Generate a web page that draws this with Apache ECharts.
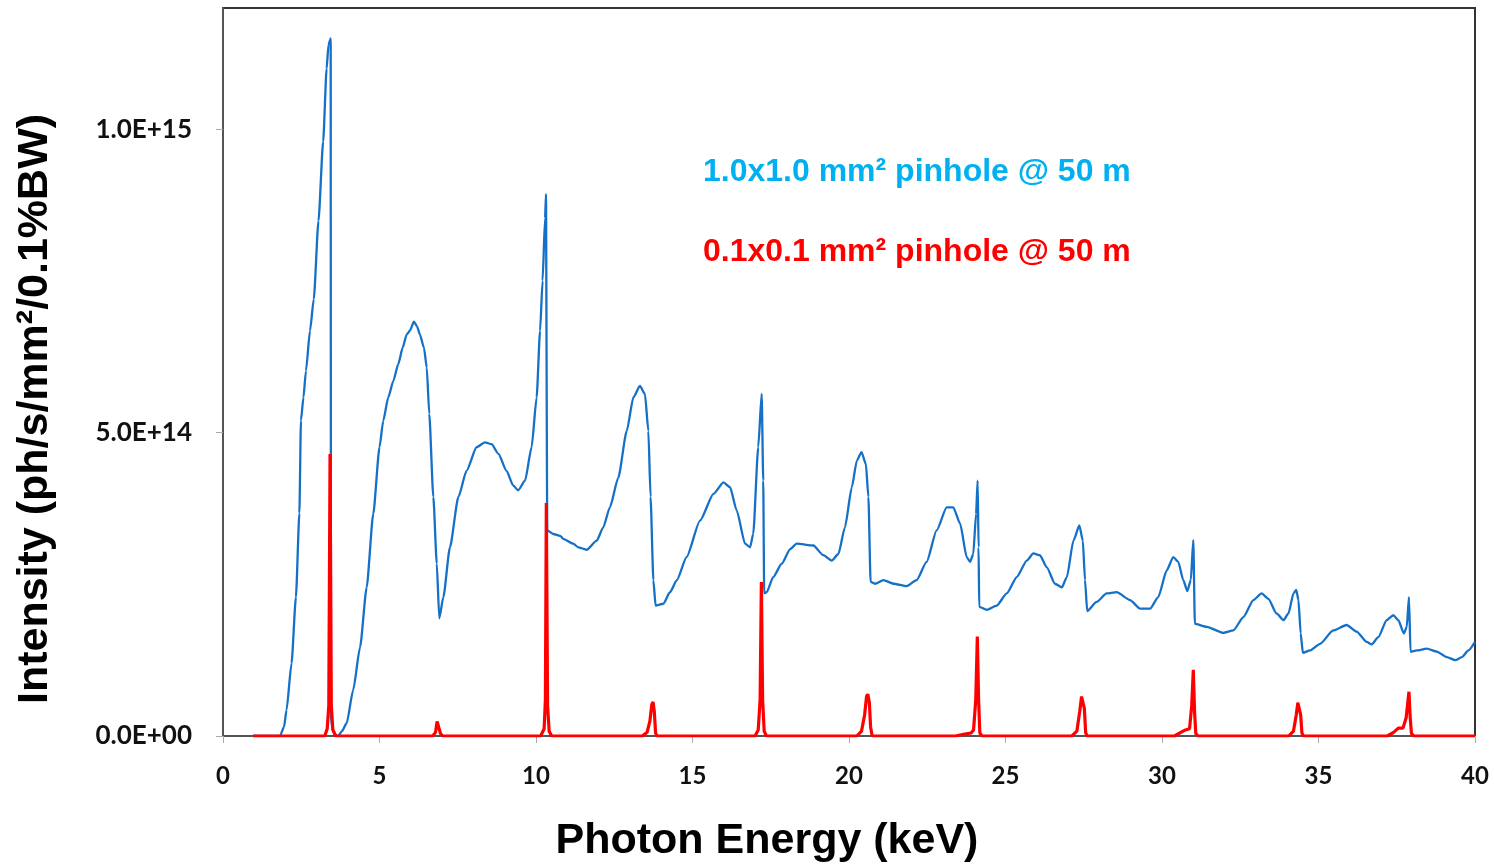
<!DOCTYPE html>
<html>
<head>
<meta charset="utf-8">
<script src="https://cdn.jsdelivr.net/npm/echarts@6/dist/echarts.min.js"></script>
<style>html,body{margin:0;padding:0;background:#fff;}#c{width:1494px;height:864px;}</style>
</head>
<body>
<div id="c"></div>
<script>
// Photon energy (keV) and intensity (in units of 1e15 ph/s/mm²/0.1%BW)
const blueEnergy = [0.96,1.5,1.82,1.95,2.03,2.19,2.33,2.44,2.49,2.57,2.65,2.78,2.9,3.05,3.2,3.31,3.37,3.42,3.44,3.45,3.5,3.6,3.68,3.8,3.95,4.16,4.38,4.59,4.8,5.0,5.12,5.28,5.44,5.6,5.74,5.87,5.97,6.1,6.2,6.29,6.42,6.51,6.59,6.72,6.83,6.91,7.04,7.25,7.52,7.78,8.1,8.37,8.58,8.8,9.06,9.27,9.43,9.65,9.86,10.02,10.13,10.21,10.29,10.32,10.34,10.36,10.55,10.77,10.87,11.19,11.35,11.62,11.94,12.15,12.36,12.63,12.9,13.11,13.32,13.48,13.59,13.66,13.75,13.82,14.07,14.28,14.5,14.81,15.24,15.67,15.99,16.2,16.41,16.68,16.84,16.94,17.1,17.21,17.26,17.29,17.37,17.58,17.85,18.12,18.33,18.86,19.18,19.45,19.66,19.87,20.09,20.25,20.4,20.54,20.62,20.69,20.83,21.1,21.42,21.84,22.16,22.48,22.8,23.12,23.33,23.55,23.76,23.87,23.97,24.06,24.11,24.14,24.16,24.4,24.72,25.04,25.36,25.68,25.89,26.1,26.32,26.58,26.8,26.96,27.17,27.36,27.47,27.54,27.61,27.91,28.23,28.55,28.98,29.3,29.62,29.88,30.15,30.36,30.52,30.68,30.81,30.92,31.0,31.05,31.43,31.96,32.28,32.6,32.92,33.18,33.4,33.66,33.88,34.04,34.2,34.29,34.36,34.43,34.5,34.73,35.05,35.47,35.9,36.22,36.54,36.7,36.91,37.18,37.39,37.55,37.73,37.82,37.89,37.94,38.14,38.46,38.78,39.1,39.37,39.58,39.79,40.0];
const blueIntensity = [0,0,0,0.015,0.043,0.12,0.229,0.367,0.52,0.558,0.602,0.668,0.72,0.849,0.98,1.1,1.139,1.147,1.15,0.03,0.01,0.002,0,0.008,0.021,0.076,0.147,0.245,0.366,0.476,0.52,0.558,0.585,0.613,0.64,0.662,0.668,0.683,0.675,0.662,0.64,0.607,0.531,0.394,0.284,0.194,0.229,0.311,0.394,0.437,0.476,0.484,0.481,0.465,0.437,0.413,0.405,0.421,0.476,0.558,0.668,0.75,0.854,0.893,0.893,0.339,0.333,0.33,0.325,0.317,0.311,0.307,0.322,0.344,0.377,0.426,0.503,0.558,0.577,0.564,0.503,0.394,0.257,0.215,0.218,0.237,0.257,0.295,0.355,0.399,0.418,0.41,0.372,0.317,0.311,0.333,0.476,0.564,0.421,0.235,0.237,0.262,0.284,0.308,0.317,0.314,0.298,0.289,0.3,0.344,0.41,0.454,0.468,0.448,0.394,0.254,0.251,0.257,0.251,0.247,0.257,0.287,0.339,0.377,0.377,0.35,0.295,0.287,0.3,0.366,0.421,0.311,0.213,0.208,0.215,0.235,0.262,0.289,0.301,0.298,0.278,0.251,0.245,0.262,0.322,0.347,0.322,0.257,0.206,0.221,0.235,0.237,0.224,0.21,0.21,0.229,0.273,0.295,0.287,0.257,0.239,0.257,0.323,0.185,0.18,0.17,0.174,0.196,0.224,0.235,0.226,0.202,0.191,0.202,0.235,0.241,0.224,0.169,0.137,0.141,0.152,0.174,0.183,0.172,0.155,0.151,0.163,0.191,0.199,0.191,0.169,0.18,0.229,0.139,0.141,0.144,0.139,0.13,0.125,0.13,0.141,0.155];

const redEnergy = [0.96,3.25,3.33,3.38,3.42,3.46,3.51,3.6,6.7,6.79,6.84,6.87,6.9,6.95,7.02,10.15,10.26,10.3,10.33,10.37,10.42,10.5,13.4,13.55,13.64,13.7,13.74,13.78,13.82,13.86,17.0,17.1,17.16,17.2,17.24,17.29,17.36,20.25,20.4,20.5,20.56,20.6,20.65,20.69,20.74,23.4,23.7,23.9,23.98,24.05,24.1,24.14,24.18,24.25,27.12,27.28,27.37,27.43,27.47,27.52,27.56,27.6,30.4,30.6,30.75,30.88,30.95,31.0,31.04,31.08,31.15,34.05,34.2,34.29,34.34,34.38,34.43,34.47,34.52,37.2,37.4,37.55,37.7,37.8,37.89,37.93,37.97,38.05,40.0];
const redIntensity = [0,0,0.012,0.05,0.465,0.05,0.01,0,0,0.006,0.024,0.027,0.022,0.004,0,0,0.012,0.06,0.384,0.05,0.008,0,0,0.006,0.025,0.052,0.056,0.04,0.005,0,0,0.01,0.06,0.254,0.06,0.008,0,0,0.008,0.035,0.065,0.069,0.055,0.015,0,0,0.003,0.005,0.01,0.06,0.164,0.06,0.005,0,0,0.008,0.04,0.065,0.067,0.045,0.006,0,0,0.006,0.01,0.012,0.05,0.109,0.04,0.004,0,0,0.008,0.035,0.055,0.056,0.035,0.005,0,0,0.006,0.013,0.013,0.03,0.073,0.03,0.004,0,0];

const xTicks = [0,5,10,15,20,25,30,35,40];
const yTickValues = [0, 5e14, 1e15];
const UNIT = 1e15;

const blueData = blueEnergy.map((e,i)=>[e, blueIntensity[i]*UNIT]);
const redData = redEnergy.map((e,i)=>[e, redIntensity[i]*UNIT]);

function fmtY(v){
  if (!yTickValues.some(t => Math.abs(t - v) < 1)) return '';
  if (v === 0) return '0.0E+00';
  const e = Math.floor(Math.log10(v) + 1e-9);
  const m = v / Math.pow(10, e);
  return m.toFixed(1) + 'E+' + String(e).padStart(2,'0');
}

const chart = echarts.init(document.getElementById('c'));
chart.setOption({
  animation: false,
  backgroundColor: '#fff',
  grid: {left: 223, right: 19, top: 8, bottom: 128, show: true, borderColor: '#333', borderWidth: 2, backgroundColor: 'transparent', containLabel: false, outerBoundsMode: 'none'},
  xAxis: {
    type: 'value', min: xTicks[0], max: xTicks[xTicks.length-1], interval: 5,
    name: 'Photon Energy (keV)', nameLocation: 'middle', nameGap: 84,
    nameTextStyle: {fontFamily: '"Liberation Sans", Arial, sans-serif', fontWeight: 'bold', fontSize: 43, color: '#000', padding: [0, 164, 0, 0]},
    axisLine: {lineStyle: {color: '#555', width: 2}},
    axisTick: {show: true, inside: false, length: 7, lineStyle: {color: '#aaa', width: 1}},
    axisLabel: {fontFamily: 'Lato, sans-serif', fontWeight: 'bold', fontSize: 24, color: '#111', margin: 28},
    splitLine: {show: false}
  },
  yAxis: {
    type: 'value', min: 0, max: 1.2e15, interval: 5e14,
    name: 'Intensity (ph/s/mm²/0.1%BW)', nameLocation: 'middle', nameGap: 166,
    nameTextStyle: {fontFamily: '"Liberation Sans", Arial, sans-serif', fontWeight: 'bold', fontSize: 43, color: '#000', padding: [0, 74, 0, 0]},
    axisLine: {show: true, lineStyle: {color: '#555', width: 2}},
    axisTick: {show: true, inside: false, length: 7, lineStyle: {color: '#aaa', width: 1}},
    axisLabel: {fontFamily: 'Lato, sans-serif', fontWeight: 'bold', fontSize: 26, color: '#111', margin: 31, formatter: fmtY, showMaxLabel: false},
    splitLine: {show: false}
  },
  series: [
    {type: 'line', name: '1.0x1.0 mm² pinhole @ 50 m', data: blueData, showSymbol: false, symbol: 'none',
     smooth: 0.2, smoothMonotone: 'x',
     lineStyle: {color: '#1570C8', width: 2.3}, itemStyle: {color: '#1570C8'}, z: 2},
    {type: 'line', name: '0.1x0.1 mm² pinhole @ 50 m', data: redData, showSymbol: false, symbol: 'none',
     lineStyle: {color: '#FF0000', width: 3.2}, itemStyle: {color: '#FF0000'}, z: 3}
  ],
  graphic: [
    {type: 'text', left: 703, top: 156, z: 10, style: {text: '1.0x1.0 mm² pinhole @ 50 m', font: 'bold 32px "Liberation Sans", Arial, sans-serif', fill: '#00B0F0'}},
    {type: 'text', left: 703, top: 236, z: 10, style: {text: '0.1x0.1 mm² pinhole @ 50 m', font: 'bold 32px "Liberation Sans", Arial, sans-serif', fill: '#FF0000'}}
  ]
});
</script>
</body>
</html>
